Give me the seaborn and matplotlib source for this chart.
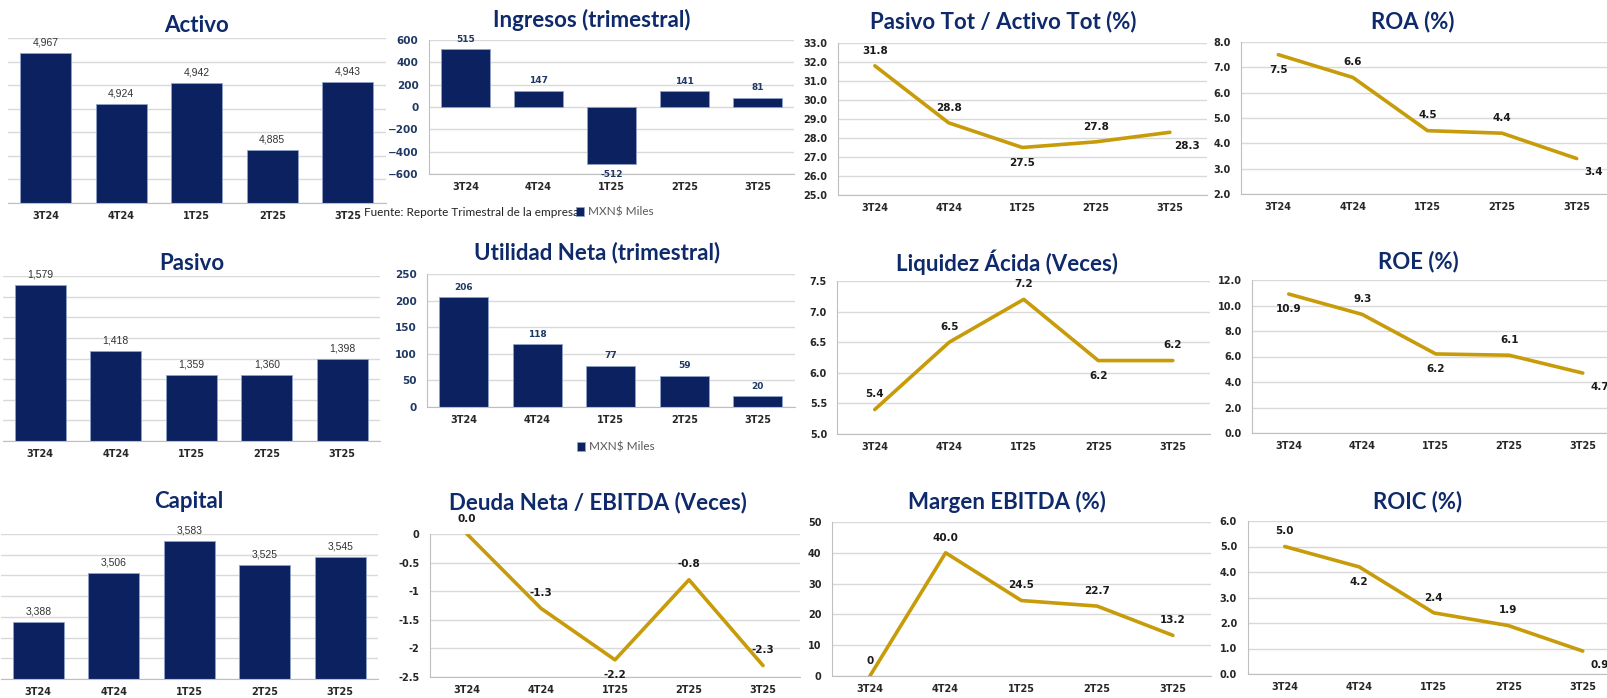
import numpy as np
import pandas as pd
import matplotlib.pyplot as plt
import seaborn as sns

quarters = ['3T24', '4T24', '1T25', '2T25', '3T25']

# bar panels (MXN$ Miles)
activo = [4967, 4924, 4942, 4885, 4943]
pasivo = [1579, 1418, 1359, 1360, 1398]
capital = [3388, 3506, 3583, 3525, 3545]
ingresos = [515, 147, -512, 141, 81]
utilidad = [206, 118, 77, 59, 20]

# ratio panels
pasivo_activo = [31.8, 28.8, 27.5, 27.8, 28.3]
roa = [7.5, 6.6, 4.5, 4.4, 3.4]
liquidez = [5.4, 6.5, 7.2, 6.2, 6.2]
roe = [10.9, 9.3, 6.2, 6.1, 4.7]
deuda_ebitda = [0.0, -1.3, -2.2, -0.8, -2.3]
margen_ebitda = [0, 40.0, 24.5, 22.7, 13.2]
roic = [5.0, 4.2, 2.4, 1.9, 0.9]

sns.set_style("white")
plt.rcParams['font.family'] = ['DejaVu Sans']

NAVY = '#0B2160'
TITLE = '#0F2A6B'
GOLD = '#C89B0A'
GRID = '#D9D9D9'
SPINE = '#BFBFBF'
W, H = 1607, 698

fig = plt.figure(figsize=(W / 100, H / 100), dpi=100)
fig.patch.set_facecolor('white')


def place(left, spacing, top, bottom):
    right = min(left + 5 * spacing, W)
    ax = fig.add_axes([left / W, 1 - bottom / H, (right - left) / W, (bottom - top) / H])
    return ax, -0.5 + (right - left) / spacing


def title(text, x, y):
    fig.text(x / W, 1 - y / H, text, ha='center', va='center', fontsize=16,
             fontweight='bold', color=TITLE, family='Lato')


def common(ax, xmax, ylim, yticks):
    ax.set_xlim(-0.5, xmax)
    ax.set_ylim(*ylim)
    ax.set_yticks(yticks)
    ax.set_xlabel('')
    ax.set_ylabel('')
    ax.grid(axis='y', color=GRID, lw=1)
    ax.set_axisbelow(True)
    for s in ['top', 'right']:
        ax.spines[s].set_visible(False)
    ax.spines['bottom'].set_color(SPINE)
    ax.spines['left'].set_color(SPINE)
    ax.tick_params(axis='x', length=0, pad=6, labelsize=7)
    for lab in ax.get_xticklabels():
        lab.set_fontweight('bold')
        lab.set_color('#262626')


def bar_panel(vals, box, ylim, yticks, ttl, tpos, legend_at=None):
    ax, xmax = place(*box)
    sns.barplot(x=quarters, y=vals, color=NAVY, saturation=1, width=0.67,
                edgecolor='#8FA3C8', linewidth=0.6, ax=ax,
                label='MXN$ Miles' if legend_at else None)
    common(ax, xmax, ylim, yticks)
    if legend_at:
        ax.tick_params(axis='y', length=4, color=SPINE, labelsize=7.5, labelcolor='#1F3864')
        for lab in ax.get_yticklabels():
            lab.set_fontweight('bold')
        ax.bar_label(ax.containers[0], labels=[f'{v:,}' for v in vals],
                     padding=4, fontsize=6.5, color='#1F3864', fontweight='bold')
        lx, ly = legend_at
        ax.legend(loc='center left', bbox_to_anchor=(lx / W, 1 - ly / H),
                  bbox_transform=fig.transFigure, frameon=False,
                  handlelength=0.7, handleheight=0.7, handletextpad=0.3,
                  borderpad=0, labelcolor='#595959', prop={'family': 'Lato', 'size': 8.5})
    else:
        ax.spines['left'].set_visible(False)
        ax.tick_params(axis='y', length=0, labelleft=False)
        ax.bar_label(ax.containers[0], labels=[f'{v:,}' for v in vals], padding=4,
                     fontsize=7.5, color='#333333', family='Liberation Sans')
    title(ttl, *tpos)
    return ax


def line_panel(vals, box, ylim, yticks, fmt, where, ttl, tpos):
    ax, xmax = place(*box)
    sns.lineplot(x=quarters, y=vals, color=GOLD, lw=2.6, sort=False, ax=ax)
    common(ax, xmax, ylim, yticks)
    ax.set_yticklabels([fmt.format(t) for t in yticks])
    ax.tick_params(axis='y', length=4, color=SPINE, labelsize=7, labelcolor='#262626')
    for lab in ax.get_yticklabels():
        lab.set_fontweight('bold')
    offs = {'a': (0, 11), 'b': (0, -11), 'br': (12, -10)}
    for i, v in enumerate(vals):
        txt = f'{v:.1f}' if isinstance(v, float) else str(v)
        ax.annotate(txt, (i, v), xytext=offs[where[i]], textcoords='offset points',
                    ha='center', va='center', fontsize=7.5, fontweight='bold',
                    color='#1A1A1A', annotation_clip=False)
    title(ttl, *tpos)
    return ax


# column 1: balance bars
bar_panel(activo, (8, 75.5, 38, 203), (4840, 4980), np.arange(4840, 4981, 20),
          'Activo', (196, 25))
bar_panel(pasivo, (2.5, 75.5, 276, 441), (1200, 1600), np.arange(1200, 1601, 50),
          'Pasivo', (192, 263))
bar_panel(capital, (0.5, 75.5, 534, 679), (3250, 3600), np.arange(3250, 3601, 50),
          'Capital', (189, 502))

# column 2
fig.text(364 / W, 1 - 212 / H, 'Fuente: Reporte Trimestral de la empresa', ha='left',
         va='center', fontsize=8.5, family='Lato', color='#222222')
bar_panel(ingresos, (429, 73, 40, 174), (-600, 600), np.arange(-600, 601, 200),
          'Ingresos (trimestral)', (592, 20), legend_at=(570, 212))
bar_panel(utilidad, (427, 73.5, 274, 407), (0, 250), np.arange(0, 251, 50),
          'Utilidad Neta (trimestral)', (597, 253), legend_at=(571, 447))

line_panel(deuda_ebitda, (430, 74, 534, 677), (-2.5, 0), [-2.5, -2, -1.5, -1, -0.5, 0],
           '{:g}', ['a', 'a', 'b', 'a', 'a'], 'Deuda Neta / EBITDA (Veces)', (598, 503))

# column 3
line_panel(pasivo_activo, (838, 73.75, 43, 195), (25, 33), np.arange(25, 33.1, 1),
           '{:.1f}', ['a', 'a', 'b', 'a', 'br'], 'Pasivo Tot / Activo Tot (%)', (1003, 22))
line_panel(liquidez, (837.5, 74.5, 281, 434), (5, 7.5), np.arange(5, 7.51, 0.5),
           '{:.1f}', ['a', 'a', 'a', 'b', 'a'], 'Liquidez Ácida (Veces)', (1007, 262))
line_panel(margen_ebitda, (832, 75.75, 522, 676), (0, 50), np.arange(0, 51, 10),
           '{:.0f}', ['a', 'a', 'a', 'a', 'a'], 'Margen EBITDA (%)', (1007, 502))

# column 4
line_panel(roa, (1241, 74.6, 42, 194), (2, 8), np.arange(2, 8.1, 1),
           '{:.1f}', ['b', 'a', 'a', 'a', 'br'], 'ROA (%)', (1413, 22))
line_panel(roe, (1252, 73.5, 280, 433), (0, 12), np.arange(0, 12.1, 2),
           '{:.1f}', ['b', 'a', 'b', 'a', 'br'], 'ROE (%)', (1418, 262))
line_panel(roic, (1247.5, 74.5, 521, 674), (0, 6), np.arange(0, 6.1, 1),
           '{:.1f}', ['a', 'b', 'a', 'a', 'br'], 'ROIC (%)', (1418, 502))

fig.savefig('out.png', dpi=100, facecolor='white')
